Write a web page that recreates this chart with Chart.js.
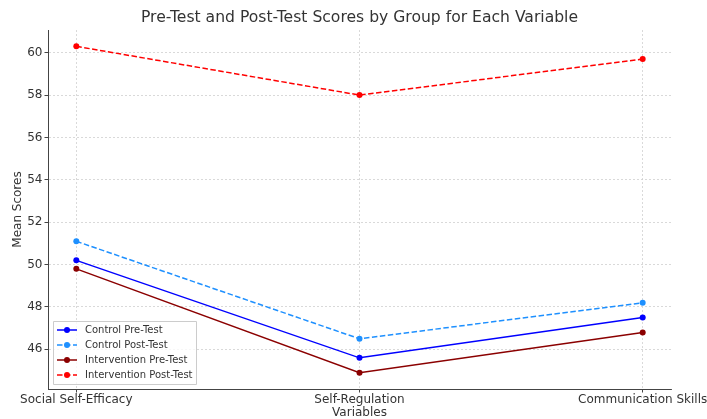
<!DOCTYPE html>
<html lang="en">
<head>
  <meta charset="UTF-8">
  <title>Scores</title>
  <script src="https://cdn.jsdelivr.net/npm/chart.js"></script>
  <style>
    body { margin: 0; background: #fff; }
    .wrap { width: 707px; height: 419px; }
  </style>
</head>
<body>
  <div class="wrap">
    <canvas id="myChart" width="707" height="419"></canvas>
  </div>

<script>
  // data
  var variables = ['Social Self-Efficacy', 'Self-Regulation', 'Communication Skills'];
  var controlPre = [50.2, 45.6, 47.5];
  var controlPost = [51.1, 46.5, 48.2];
  var interventionPre = [49.8, 44.9, 46.8];
  var interventionPost = [60.3, 58.0, 59.7];
  var yTicks = [46, 48, 50, 52, 54, 56, 58, 60];

  var fonte = 'DejaVu Sans';
  var corTexto = '#333';

  function pontos(valores) {
    return valores.map(function (v, i) { return { x: i, y: v }; });
  }

  function serie(label, valores, cor, tracejado) {
    return {
      label: label,
      data: pontos(valores),
      borderColor: cor,
      backgroundColor: cor,
      pointBackgroundColor: cor,
      pointBorderColor: cor,
      pointRadius: 3,
      pointBorderWidth: 0,
      borderWidth: 1.5,
      borderDash: tracejado ? [5.5, 2.5] : [],
      tension: 0
    };
  }

  // legend drawn inside the plot, bottom left
  const legendaDentro = {
    id: 'legendaDentro',
    afterDraw(chart) {
      const ctx = chart.ctx;
      const area = chart.chartArea;
      const sets = chart.data.datasets;
      const x0 = area.left + 5, y0 = area.bottom - 68;
      const w = 143, h = 63, passo = 15;
      ctx.save();
      ctx.fillStyle = 'rgba(255,255,255,0.8)';
      ctx.strokeStyle = '#ccc';
      ctx.lineWidth = 1;
      ctx.beginPath();
      ctx.rect(x0 + 0.5, y0 + 0.5, w, h);
      ctx.fill();
      ctx.stroke();
      ctx.font = '10px ' + fonte;
      ctx.textBaseline = 'middle';
      sets.forEach(function (ds, i) {
        const y = y0 + 9 + i * passo;
        ctx.strokeStyle = ds.borderColor;
        ctx.lineWidth = 1.5;
        ctx.setLineDash(ds.borderDash);
        ctx.beginPath();
        ctx.moveTo(x0 + 4, y);
        ctx.lineTo(x0 + 24, y);
        ctx.stroke();
        ctx.setLineDash([]);
        ctx.fillStyle = ds.borderColor;
        ctx.beginPath();
        ctx.arc(x0 + 14, y, 3, 0, Math.PI * 2);
        ctx.fill();
        ctx.fillStyle = corTexto;
        ctx.fillText(ds.label, x0 + 32, y + 0.5);
      });
      ctx.restore();
    }
  };

  const ctxGrafico = document.getElementById('myChart');

  const grafico = new Chart(ctxGrafico, {
    type: 'line',
    data: {
      datasets: [
        serie('Control Pre-Test', controlPre, '#0000ff', false),
        serie('Control Post-Test', controlPost, '#1e90ff', true),
        serie('Intervention Pre-Test', interventionPre, '#8b0000', false),
        serie('Intervention Post-Test', interventionPost, '#ff0000', true)
      ]
    },
    options: {
      responsive: false,
      animation: false,
      layout: { padding: { left: 0, right: 36, top: 0, bottom: 0 } },
      plugins: {
        legend: { display: false },
        tooltip: { enabled: false },
        title: {
          display: true,
          fullSize: false,
          text: 'Pre-Test and Post-Test Scores by Group for Each Variable',
          color: corTexto,
          font: { family: fonte, size: 15.6, weight: 'normal' },
          padding: { top: 8.5, bottom: 2.8 }
        }
      },
      scales: {
        x: {
          type: 'linear',
          min: -0.1,
          max: 2.1,
          afterBuildTicks: function (axis) {
            axis.ticks = variables.map(function (v, i) { return { value: i }; });
          },
          afterFit: function (axis) {
            axis.height = 30;
            axis.paddingLeft = 0;
            axis.paddingRight = 0;
          },
          grid: {
            color: '#d0d0d0',
            lineWidth: 0.8,
            tickColor: '#444',
            tickLength: 3.5,
            tickWidth: 1
          },
          border: { display: true, color: '#444', width: 1, dash: [2, 2] },
          ticks: {
            autoSkip: false,
            maxRotation: 0,
            padding: 0,
            color: corTexto,
            font: { family: fonte, size: 12 },
            callback: function (v) { return variables[v]; }
          },
          title: {
            display: true,
            text: 'Variables',
            color: corTexto,
            font: { family: fonte, size: 12 },
            padding: { top: 0, bottom: -1.5 }
          }
        },
        y: {
          min: 44.13,
          max: 61.07,
          afterBuildTicks: function (axis) {
            axis.ticks = yTicks.map(function (v) { return { value: v }; });
          },
          afterFit: function (axis) { axis.width = 48; },
          grid: {
            color: '#d0d0d0',
            lineWidth: 0.8,
            tickColor: '#444',
            tickLength: 3.5,
            tickWidth: 1
          },
          border: { display: true, color: '#444', width: 1, dash: [2, 2] },
          ticks: {
            padding: 2,
            color: corTexto,
            font: { family: fonte, size: 12 }
          },
          title: {
            display: true,
            text: 'Mean Scores',
            color: corTexto,
            font: { family: fonte, size: 12 },
            padding: { top: 11, bottom: 0 }
          }
        }
      }
    },
    plugins: [legendaDentro]
  });
</script>
</body>
</html>
